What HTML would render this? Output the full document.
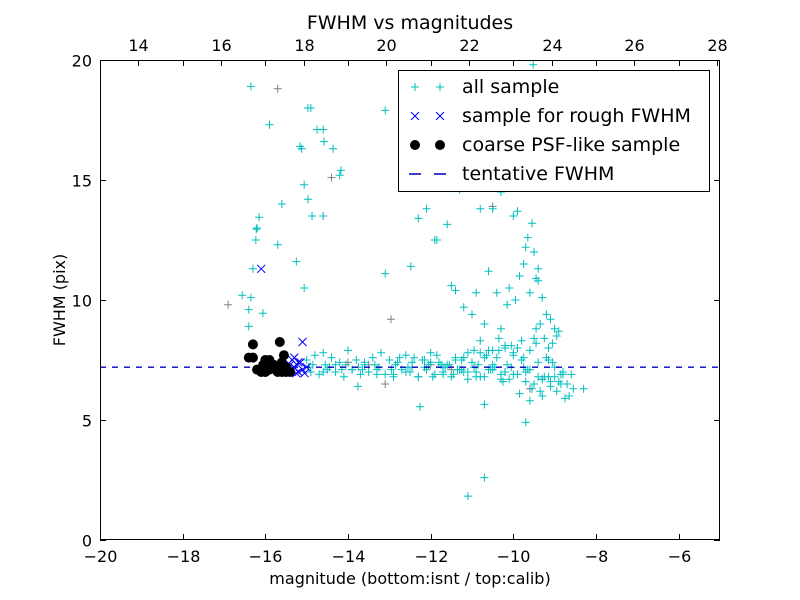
<!DOCTYPE html>
<html><head><meta charset="utf-8"><style>
html,body{margin:0;padding:0;background:#fff;}
svg{display:block;font-family:"DejaVu Sans","Liberation Sans",sans-serif;}
</style></head><body>
<svg id="chart" width="800" height="600" viewBox="0 0 800 600">
<rect x="0" y="0" width="800" height="600" fill="#fff"/>
<g id="marks"></g>
<g id="axes"></g>
<text x="410" y="29" font-size="19" text-anchor="middle">FWHM vs magnitudes</text>
<text x="410" y="584" font-size="16" text-anchor="middle">magnitude (bottom:isnt / top:calib)</text>
<text transform="translate(65,300) rotate(-90)" font-size="16" text-anchor="middle">FWHM (pix)</text>
<g>
<rect x="398.5" y="70.5" width="311" height="121" fill="#fff" stroke="#000" stroke-width="1"/>
<g>
<path d="M411 87h8M415 83v8M436 87h8M440 83v8" stroke="#00bfbf" stroke-width="1"/>
<text x="462" y="93" font-size="19">all sample</text></g>
<g>
<path d="M411 112l8 8M419 112l-8 8M436 112l8 8M444 112l-8 8" stroke="#0000ff" stroke-width="1"/>
<text x="462" y="122" font-size="19">sample for rough FWHM</text></g>
<g>
<circle cx="415" cy="145" r="5" fill="#000"/><circle cx="440" cy="145" r="5" fill="#000"/>
<text x="462" y="151" font-size="19">coarse PSF-like sample</text></g>
<g>
<path d="M409 174h12M434 174h12" stroke="#0000bf" stroke-width="1.5"/>
<text x="462" y="180" font-size="19">tentative FWHM</text></g>
</g>
</svg>
<script>
const allMag=[-16.35,-15.9,-14.97,-14.9,-15.16,-15.12,-14.75,-14.6,-14.58,-14.36,-14.2,-14.17,-15.06,-14.97,-15.6,-14.87,-14.6,-16.15,-16.2,-16.22,-15.7,-16.23,-16.3,-15.25,-15.06,-16.56,-16.35,-16.4,-16.06,-16.4,-13.1,-13.1,-12.48,-12.3,-12.1,-11.6,-11.3,-11.9,-11.85,-11.5,-11.4,-10.8,-10.5,-10.3,-10.2,-10.0,-9.9,-9.8,-9.7,-9.6,-9.52,-9.75,-9.7,-9.65,-9.55,-9.5,-9.45,-9.4,-9.85,-10.1,-10.4,-10.6,-10.9,-11.2,-11.0,-10.7,-10.3,-10.15,-9.95,-9.6,-9.4,-9.3,-9.2,-9.1,-9.0,-8.95,-8.9,-9.35,-9.25,-9.15,-9.05,-9.5,-9.45,-9.8,-9.9,-10.0,-10.2,-10.35,-10.5,-10.8,-11.1,-10.7,-9.7,-12.26,-10.7,-13.76,-11.1,-10.7,
-15.0,-14.8,-14.6,-14.4,-14.2,-14.0,-13.8,-13.6,-13.4,-13.2,-13.0,-12.8,-12.6,-12.4,-12.2,-12.0,-11.8,-11.6,-11.4,-11.2,-11.0,-10.8,-10.6,-10.4,-10.2,-10.0,-9.8,-9.6,-9.4,-9.2,-9.0,-8.8,-8.6,
-14.9,-14.7,-14.5,-14.3,-14.1,-13.9,-13.7,-13.5,-13.3,-13.1,-12.9,-12.7,-12.5,-12.3,-12.1,-11.9,-11.7,-11.5,-11.3,-11.1,-10.9,-10.7,-10.5,-10.3,-10.1,-9.9,-9.7,-9.5,-9.3,-9.1,-8.9,-8.7,
-14.85,-14.45,-14.05,-13.65,-13.25,-12.85,-12.45,-12.05,-11.65,-11.25,-10.85,-10.45,-10.05,-9.65,-9.25,-8.85,-8.55,-8.3,-8.75,-8.65,
-14.95,-14.55,-14.15,-13.75,-13.35,-12.95,-12.55,-12.15,-11.75,-11.35,-10.95,-10.55,-10.15,-9.75,-9.35,-8.95,-9.55,-9.85,-10.25,-9.15,-9.05,-8.8,-9.6,-9.3,
-12.9,-12.6,-12.3,-12.0,-11.7,-11.4,-11.1,-10.8,-10.5,-10.2,-9.9,-9.6,-9.3,-9.0,-12.75,-12.45,-12.15,-11.85,-11.55,-11.25,-10.95,-10.65,-10.35,-10.05,-9.75,-9.45,-9.15,-8.85,-11.95,-11.7,-11.45,-11.2,-10.9,-10.6,-10.3,-10.0,-9.7,-9.4,-9.1,-13.9,-13.6,-13.3,-14.3,-14.6];
const allFwhm=[18.9,17.3,18.0,18.0,16.4,16.3,17.1,17.1,16.6,16.3,15.2,15.4,14.8,14.2,14.0,13.5,13.5,13.45,13.0,12.95,12.3,12.5,11.3,11.6,10.5,10.2,10.1,9.6,9.45,8.9,17.9,11.1,11.4,13.4,13.8,13.15,14.6,12.5,12.5,10.6,10.4,13.8,13.8,14.5,14.8,13.5,13.7,14.8,14.9,15.2,19.8,11.5,12.2,12.6,13.2,12.0,10.9,11.3,11.0,10.5,10.3,11.2,10.3,9.7,9.4,9.0,8.8,9.8,10.0,10.3,10.8,10.1,9.4,9.2,8.8,8.5,8.7,9.0,8.4,8.0,8.2,8.4,8.8,8.3,8.0,7.8,8.1,8.4,7.9,8.3,7.8,7.6,4.9,5.55,5.65,6.4,1.83,2.6,
7.5,7.7,7.8,7.6,7.4,7.9,7.5,7.3,7.6,7.8,7.5,7.4,7.7,7.6,7.5,7.8,7.4,7.3,7.5,7.6,7.4,7.8,7.9,7.6,8.0,7.7,7.5,7.9,7.4,7.6,7.2,7.0,6.9,
7.0,6.9,7.1,7.0,6.8,7.1,6.9,7.0,7.1,6.9,6.8,7.1,7.0,6.8,7.1,6.9,7.0,6.8,7.1,6.7,7.0,6.8,7.1,6.9,6.7,6.9,6.6,6.5,6.7,6.4,6.6,6.5,
7.3,7.2,7.3,7.1,7.2,7.3,7.2,7.3,7.2,7.1,7.3,7.2,7.2,7.1,6.8,6.5,6.3,6.3,5.9,6.0,
7.2,7.3,7.1,7.2,7.3,7.1,7.2,7.2,7.3,7.1,7.2,7.1,7.3,7.2,6.2,6.2,6.3,6.1,6.6,6.8,7.4,6.9,5.8,6.0,
6.9,7.0,6.8,7.4,6.9,7.6,7.0,6.8,7.3,7.0,6.9,7.1,6.7,6.8,7.6,7.4,7.5,7.7,7.3,7.5,7.9,7.7,7.9,8.1,7.6,8.2,7.5,6.9,6.8,7.2,6.9,7.0,6.8,7.1,6.7,6.9,7.0,6.8,6.6,7.1,7.4,6.9,7.3,7.0];
const grayMag=[-16.9,-15.7,-14.4,-12.96,-13.1,-10.5,-9.6,-12.0,-11.5,-14.0,-10.2,-13.5,-15.5];
const grayFwhm=[9.8,18.8,15.1,9.2,6.5,13.9,6.3,7.3,7.1,7.4,7.0,7.3,7.2];
const roughMag=[-16.1,-15.1,-15.35,-15.3,-15.2,-15.1,-15.25,-15.4,-15.15,-15.0,-15.3,-15.05,-15.45,-15.2];
const roughFwhm=[11.3,8.25,7.5,7.2,7.0,7.1,6.95,7.3,7.4,7.2,7.6,6.95,7.0,7.4];
const psfMag=[-16.4,-16.3,-16.3,-15.65,-15.55,-16.1,-16.0,-15.9,-15.8,-15.7,-15.6,-15.5,-15.4,-16.2,-15.9,-16.0,-15.6,-15.5,-16.05,-15.75];
const psfFwhm=[7.6,7.6,8.15,8.25,7.7,7.0,7.0,7.1,7.3,7.0,7.0,7.2,7.0,7.1,7.5,7.5,7.4,7.0,7.3,7.1];
const tentativeFwhm=7.2;
const xTicks=[-20,-18,-16,-14,-12,-10,-8,-6];
const topTicks=[14,16,18,20,22,24,26,28];
const yTicks=[0,5,10,15,20];

const L=100,R=720,T=60,B=540,xMin=-20,xMax=-5,yMin=0,yMax=20,topOffset=33.07;
const sx=v=>L+(v-xMin)/(xMax-xMin)*(R-L);
const sy=v=>B-(v-yMin)/(yMax-yMin)*(B-T);
const NS='http://www.w3.org/2000/svg';
const marks=document.getElementById('marks'), axes=document.getElementById('axes');
function mk(tag,attrs,parent){const e=document.createElementNS(NS,tag);for(const k in attrs)e.setAttribute(k,attrs[k]);parent.appendChild(e);return e;}
const clip=mk('clipPath',{id:'pc'},marks);mk('rect',{x:L,y:T,width:R-L,height:B-T},clip);
const g=mk('g',{'clip-path':'url(#pc)'},marks);
function plus(x,y,c,name){const p=mk('path',{d:`M${x-4} ${y}h8M${x} ${y-4}v8`,stroke:c,'stroke-width':1,fill:'none'},g);

}
grayMag.forEach((m,i)=>plus(sx(m),sy(grayFwhm[i]),'#808080','gray-point'));
allMag.forEach((m,i)=>plus(sx(m),sy(allFwhm[i]),'#00bfbf','all-sample-point'));
const dl=mk('line',{x1:L,x2:R,y1:sy(tentativeFwhm),y2:sy(tentativeFwhm),stroke:'#0000bf','stroke-width':1.3,'stroke-dasharray':'6,6'},g);


roughMag.forEach((m,i)=>{const x=sx(m),y=sy(roughFwhm[i]);const p=mk('path',{d:`M${x-4} ${y-4}l8 8M${x+4} ${y-4}l-8 8`,stroke:'#0000ff','stroke-width':1,fill:'none'},g);

});
psfMag.forEach((m,i)=>{const c=mk('circle',{cx:sx(m),cy:sy(psfFwhm[i]),r:5,fill:'#000'},g);

});
const frame=mk('rect',{x:L+0.5,y:T+0.5,width:R-L-1,height:B-T-1,fill:'none',stroke:'#000','stroke-width':1},axes);


xTicks.forEach(v=>{const x=Math.round(sx(v))+0.5;
mk('path',{d:`M${x} ${B}v-6M${x} ${T}v6`,stroke:'#000'},axes);
const t=mk('text',{x:x,y:B+22,'font-size':16,'text-anchor':'middle'},axes);t.textContent=(v<0?'\u2212'+(-v):v);

});
topTicks.forEach(v=>{const x=Math.round(sx(v-topOffset))+0.5;
mk('path',{d:`M${x} ${T}v6`,stroke:'#000'},axes);
const t=mk('text',{x:x,y:T-9,'font-size':16,'text-anchor':'middle'},axes);t.textContent=v;

});
yTicks.forEach(v=>{const y=Math.round(sy(v))+0.5;
mk('path',{d:`M${L} ${y}h6M${R} ${y}h-6`,stroke:'#000'},axes);
const t=mk('text',{x:L-8,y:y+6,'font-size':16,'text-anchor':'end'},axes);t.textContent=v;

});
</script>
</body></html>
